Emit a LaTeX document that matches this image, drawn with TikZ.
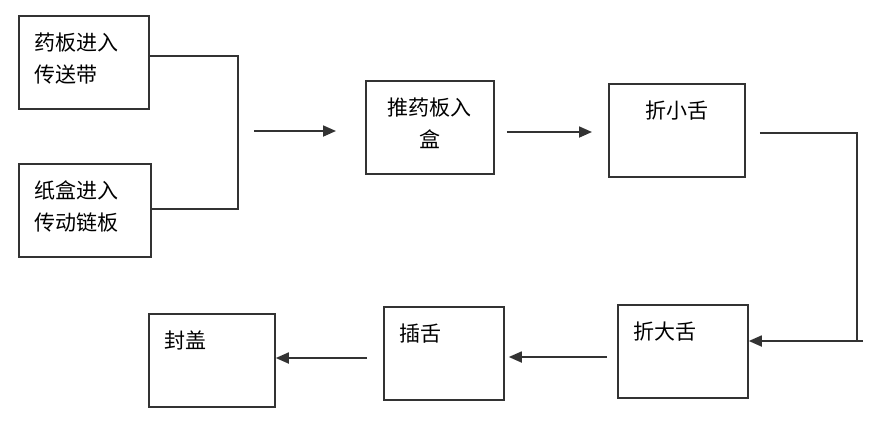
\documentclass[tikz,border=0pt]{standalone}
\usepackage{fontspec}
\newfontfamily\cjk{Noto Sans CJK SC}
\usetikzlibrary{arrows.meta}
\begin{document}
\begin{tikzpicture}[x=0.5pt,y=-0.5pt,font=\cjk\fontsize{10.5}{16}\selectfont,
    >={Triangle[length=6.5pt,width=5.5pt]}]
    \tikzset{
        box/.style={draw=black!80,line width=0.9pt,anchor=north west,align=left,
            inner xsep=8pt,inner ysep=0pt,text height=17.5pt,text depth=29.1pt},
        line/.style={draw=black!80,line width=0.9pt},
        flow/.style={line,->}
    }
    \useasboundingbox (0,0) rectangle (873,424);

    % coordenadas en píxeles de la figura, y hacia abajo
    \node[box,text width=49pt] (feed) at (18,15) {药板进入\\传送带};
    \node[box,text width=50pt] (carton) at (18,163) {纸盒进入\\传动链板};
    \node[box,text width=48pt,align=center] (push) at (365,80) {推药板入\\盒};
    \node[box,text width=52pt,align=center] (small) at (608,83) {折小舌};
    \node[box,text width=49pt] (big) at (617,304) {折大舌};
    \node[box,text width=44pt] (tuck) at (383,306) {插舌};
    \node[box,text width=47pt] (seal) at (148,313) {封盖};

    % unión de las dos entradas
    \coordinate (jn) at (238,56);
    \coordinate (js) at (238,209);
    \draw[line] (feed.east |- jn) -- (jn) -- (js) -- (carton.east |- js);
    \coordinate (in1) at (254,131);
    \coordinate (in2) at (336,131);
    \draw[flow] (in1) -- (in2);

    \draw[flow,shorten <=6pt,shorten >=8pt] (push.east |- 0,132) -- (small.west |- 0,132);

    % retorno por la derecha
    \coordinate (ne) at (857,133);
    \coordinate (se) at (857,341);
    \draw[line,shorten <=7pt] (small.east |- ne) -- (ne) -- (se);
    \draw[flow] ([xshift=3pt]se) -- (big.east |- se);

    \draw[flow,shorten <=5pt,shorten >=2pt] (big.west |- 0,357) -- (tuck.east |- 0,357);
    \draw[flow,shorten <=8pt] (tuck.west |- 0,358) -- (seal.east |- 0,358);
\end{tikzpicture}
\end{document}
